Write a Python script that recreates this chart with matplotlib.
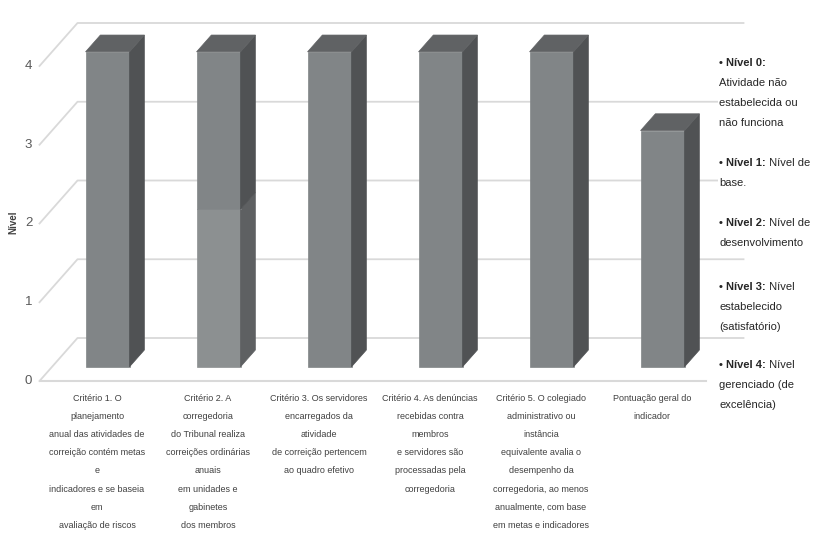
import matplotlib
matplotlib.use("Agg")
import matplotlib.pyplot as plt
from matplotlib.patches import Polygon

categorias = [
    "Critério 1. O\nplanejamento\nanual das atividades de\ncorreição contém metas\ne\nindicadores e se baseia\nem\navaliação de riscos",
    "Critério 2. A\ncorregedoria\ndo Tribunal realiza\ncorreições ordinárias\nanuais\nem unidades e\ngabinetes\ndos membros",
    "Critério 3. Os servidores\nencarregados da\natividade\nde correição pertencem\nao quadro efetivo",
    "Critério 4. As denúncias\nrecebidas contra\nmembros\ne servidores são\nprocessadas pela\ncorregedoria",
    "Critério 5. O colegiado\nadministrativo ou\ninstância\nequivalente avalia o\ndesempenho da\ncorregedoria, ao menos\nanualmente, com base\nem metas e indicadores",
    "Pontuação geral do\nindicador",
]
nivel_base = [4, 2, 4, 4, 4, 3]
nivel_extra = [0, 2, 0, 0, 0, 0]
niveis_y = [0, 1, 2, 3, 4]

legenda = [
    ("• Nível 0:", "", ["Atividade não", "estabelecida ou", "não funciona"]),
    ("• Nível 1:", " Nível de", ["base."]),
    ("• Nível 2:", " Nível de", ["desenvolvimento"]),
    ("• Nível 3:", " Nível", ["estabelecido", "(satisfatório)"]),
    ("• Nível 4:", " Nível", ["gerenciado (de", "excelência)"]),
]

FONT = ["Liberation Sans Narrow", "Liberation Sans", "DejaVu Sans"]
W, H = 814, 535

fig = plt.figure(figsize=(W / 100, H / 100), dpi=100)
# front plane of the 3d box: x -0.5..5.5 -> 39.5..705.5 px, y 0..4 -> 381..66 px
ax = fig.add_axes([39.5 / W, 1 - 381 / H, 666 / W, 315 / H])
ax.set_xlim(-0.5, len(categorias) - 0.5)
ax.set_ylim(0, 4)
ax.axis("off")

DX = 38 / 111.0   # depth offset in category units
DY = 43 / 78.75   # depth offset in value units


def proj(x, v, d):
    return (x + DX * d, v + DY * d)


grid_c = "#d9d9d9"
n = len(categorias)
for v in niveis_y:
    p0 = proj(-0.5, v, 0)
    p1 = proj(-0.5, v, 1)
    p2 = proj(n - 0.5, v, 1)
    ax.plot([p0[0], p1[0], p2[0]], [p0[1], p1[1], p2[1]], color=grid_c,
            lw=1.3, clip_on=False, zorder=1)
ax.plot([-0.5, n - 0.5], [0, 0], color=grid_c, lw=1.5, clip_on=False, zorder=1)

d0, d1 = 0.33, 0.72
hw = 0.198


def box(x, v0, v1, front, side, top, z):
    xl, xr = x - hw, x + hw
    f = [proj(xl, v0, d0), proj(xr, v0, d0), proj(xr, v1, d0), proj(xl, v1, d0)]
    s = [proj(xr, v0, d0), proj(xr, v0, d1), proj(xr, v1, d1), proj(xr, v1, d0)]
    t = [proj(xl, v1, d0), proj(xr, v1, d0), proj(xr, v1, d1), proj(xl, v1, d1)]
    for pts, c in ((f, front), (s, side)):
        ax.add_patch(Polygon(pts, closed=True, fc=c, ec=c, lw=0.5,
                             clip_on=False, zorder=z))
    if top:
        ax.add_patch(Polygon(t, closed=True, fc=top, ec=top, lw=0.5,
                             clip_on=False, zorder=z + 0.1))


for i in range(n):
    b, e = nivel_base[i], nivel_extra[i]
    if e > 0:
        box(i, 0, b, "#8c9091", "#5e6062", None, 3)
        box(i, b, b + e, "#818587", "#505254", "#606264", 3)
    else:
        box(i, 0, b, "#818587", "#505254", "#606264", 3)

# y tick labels
for v in niveis_y:
    ax.text(-0.5 - 11 / 111.0, v, str(v), ha="center", va="center",
            fontsize=9.5, color="#595959", family=FONT, clip_on=False)
fig.text(13 / W, 1 - 222 / H, "Nível", rotation=90, ha="center", va="center",
         fontsize=7, fontweight="bold", color="#404040", family=FONT)

# category labels
for i, lab in enumerate(categorias):
    ax.text(i + 2 / 111.0, -13 / 78.75, lab, ha="center", va="top",
            fontsize=6.5, color="#404040", family=FONT, linespacing=2.3,
            clip_on=False)

# legend text on the right
box_kw = dict(fc="white", ec="none", pad=0.6)
ys = [63, 163, 223, 287, 365]
for (bold, rest, linhas), y in zip(legenda, ys):
    t = fig.text(719 / W, 1 - y / H, bold, ha="left", va="center",
                 fontsize=8, fontweight="bold", color="#262626", family=FONT,
                 bbox=box_kw)
    if rest:
        ax.annotate(rest, xy=(1, 0.5), xycoords=t, ha="left", va="center",
                    fontsize=8, color="#262626", family=FONT, bbox=box_kw,
                    annotation_clip=False)
    for k, linha in enumerate(linhas):
        fig.text(719 / W, 1 - (y + 20 * (k + 1)) / H, linha, ha="left",
                 va="center", fontsize=8, color="#262626", family=FONT,
                 bbox=box_kw)

fig.savefig("out.png", dpi=100, facecolor="white")
